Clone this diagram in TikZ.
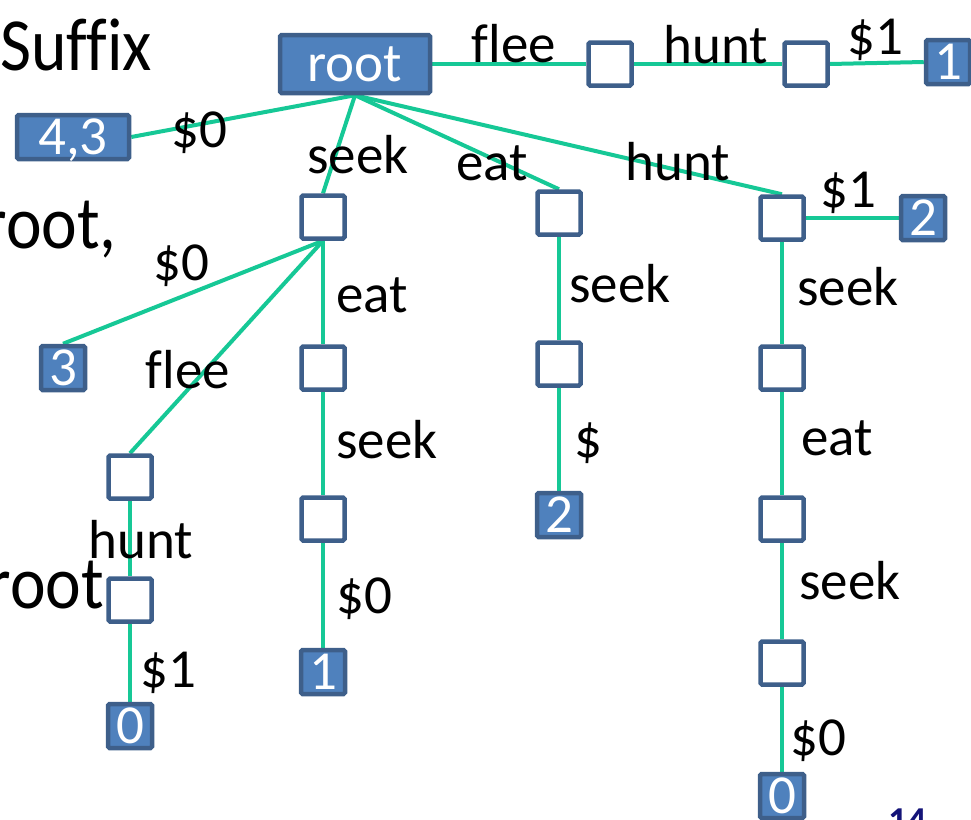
\documentclass[tikz,border=0pt]{standalone}
\usepackage{fontspec}
\setmainfont{Carlito}[Ligatures=NoCommon]
\newfontfamily\sidefamily{Carlito}[Ligatures=NoCommon, FakeStretch=0.9]
\usetikzlibrary{backgrounds}
\definecolor{boxline}{RGB}{62,95,138}
\definecolor{boxfill}{RGB}{79,129,189}
\definecolor{conngreen}{RGB}{22,200,150}
\definecolor{pagenum}{RGB}{20,20,120}
\newcommand{\lblfont}{\fontsize{55}{60}\selectfont}
\newcommand{\bigfont}{\sidefamily\fontsize{75}{80}\selectfont}
\tikzset{
  conn/.style={draw=conngreen, line width=4pt},
  emptybox/.style={draw=boxline, fill=white, line width=4.5pt, minimum size=43pt,
    rounded corners=1.5pt, inner sep=0pt},
  leafbox/.style={draw=boxline, fill=boxfill, line width=4.5pt, minimum width=44pt,
    minimum height=44pt, rounded corners=1.5pt, inner sep=0pt, text=white,
    font=\lblfont, text depth=0pt},
  edgelabel/.style={anchor=base, inner sep=0pt, font=\lblfont},
  sidetext/.style={anchor=base east, inner sep=0pt, font=\bigfont}
}
\begin{document}
\begin{tikzpicture}[x=1pt,y=-1pt]
\useasboundingbox (0,0) rectangle (971,819);
\clip (0,0) rectangle (971,819);

% text running in from the left
\node[sidetext] (t1) at (152,70) {Suffix};
\node[sidetext] (t2) at (117,248) {root,};
\node[sidetext] (t3) at (104,608) {root};

% root and the upper chain
\node[leafbox, minimum width=150pt, minimum height=58pt] (root) at (355,64) {root};
\node[emptybox] (a1) at (610,64) {};
\node[emptybox] (a2) at (806,64) {};
\node[leafbox] (a3) at (948,62) {1};
\node[leafbox, minimum width=112pt] (l43) at (73,137) {4,3};

% seek branch
\node[emptybox] (b1) at (323,217) {};
\node[emptybox] (b2) at (323,368) {};
\node[emptybox] (b3) at (323,519) {};
\node[leafbox] (b4) at (323,672) {1};
\node[leafbox] (l3) at (63,368) {3};
\node[emptybox] (e1) at (130,477) {};
\node[emptybox] (e2) at (130,600) {};
\node[leafbox] (e3) at (130,726) {0};

% eat branch
\node[emptybox] (c1) at (559,213) {};
\node[emptybox] (c2) at (559,364) {};
\node[leafbox] (c3) at (559,515) {2};

% hunt branch
\node[emptybox] (d1) at (782,218) {};
\node[leafbox] (d1leaf) at (923,218) {2};
\node[emptybox] (d2) at (782,368) {};
\node[emptybox] (d3) at (782,519) {};
\node[emptybox] (d4) at (782,663) {};
\node[leafbox] (d5) at (782,796) {0};

% connectors behind the boxes
\begin{pgfonlayer}{background}
  \draw[conn] (root.east) -- (a1.west);
  \draw[conn] (a1.east) -- (a2.west);
  \draw[conn] (a2.east) -- (a3.west);
  \draw[conn] (root.south) -- (l43.east);
  \draw[conn] (root.south) -- (b1.north);
  \draw[conn] (root.south) -- (c1.north);
  \draw[conn] (root.south) -- (d1.north);
  \draw[conn] (b1.south) -- (l3.north);
  \draw[conn] (b1.south) -- (e1.north);
  \draw[conn] (e1.south) -- (e2.north);
  \draw[conn] (e2.south) -- (e3.north);
  \draw[conn] (b1.south) -- (b2.north);
  \draw[conn] (b2.south) -- (b3.north);
  \draw[conn] (b3.south) -- (b4.north);
  \draw[conn] (c1.south) -- (c2.north);
  \draw[conn] (c2.south) -- (c3.north);
  \draw[conn] (d1.east) -- (d1leaf.west);
  \draw[conn] (d1.south) -- (d2.north);
  \draw[conn] (d2.south) -- (d3.north);
  \draw[conn] (d3.south) -- (d4.north);
  \draw[conn] (d4.south) -- (d5.north);
\end{pgfonlayer}

% edge labels
\node[edgelabel] (la1) at (514,62) {flee};
\node[edgelabel] (la2) at (716,63) {hunt};
\node[edgelabel] (la3) at (875,54) {\$1};
\node[edgelabel] (l43lab) at (199,147) {\$0};
\node[edgelabel] (lb1) at (358,173) {seek};
\node[edgelabel] (lc1) at (492,180) {eat};
\node[edgelabel] (ld1) at (678,180) {hunt};
\node[edgelabel] (ld1leaf) at (848,207) {\$1};
\node[edgelabel] (ll3) at (181,280) {\$0};
\node[edgelabel] (le1) at (188,388) {flee};
\node[edgelabel] (le2) at (141,558) {hunt};
\node[edgelabel] (le3) at (168,687) {\$1};
\node[edgelabel] (lb2) at (372,312) {eat};
\node[edgelabel] (lb3) at (387,458) {seek};
\node[edgelabel] (lb4) at (364,613) {\$0};
\node[edgelabel] (lc2) at (620,302) {seek};
\node[edgelabel] (lc3) at (588,457) {\$};
\node[edgelabel] (ld2) at (848,305) {seek};
\node[edgelabel] (ld3) at (837,455) {eat};
\node[edgelabel] (ld4) at (850,599) {seek};
\node[edgelabel] (ld5) at (818,755) {\$0};

% page number, cut by the lower edge
\node[anchor=north west, inner sep=0pt, text=pagenum,
  font=\fontsize{38}{42}\selectfont\bfseries] (pg) at (888,809) {14};
\end{tikzpicture}
\end{document}
